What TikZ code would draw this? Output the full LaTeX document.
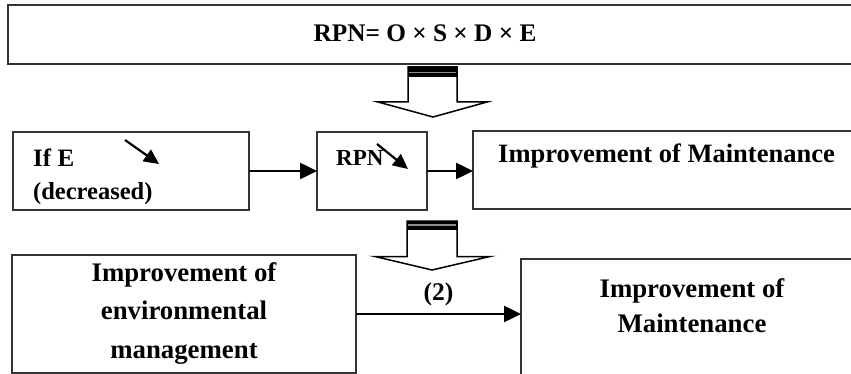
\documentclass[tikz,border=0pt]{standalone}
\usepackage{fontspec}
\setmainfont{Liberation Serif}
\usetikzlibrary{arrows.meta}
\tikzset{
  box/.style={draw=black!80, line width=1.3pt, inner sep=0pt, outer sep=0pt, anchor=north west},
  conn/.style={line width=2.5pt, -{Triangle[length=17pt,width=16pt]}},
  tinyarrow/.style={line width=2.2pt, -{Triangle[length=15pt,width=14pt]}},
  hollow/.style={draw=black, line width=1.5pt, fill=white, line join=miter},
  txt/.style={inner sep=0pt, font=\bfseries},
}
\begin{document}
\begin{tikzpicture}[x=1pt,y=-1pt]
\useasboundingbox (0,0) rectangle (851,374);
% boxes
\node[box, minimum width=850pt, minimum height=59pt] (top) at (8,5) {};
\node[box, minimum width=236pt, minimum height=78pt] (b1) at (13,132) {};
\node[box, minimum width=110pt, minimum height=78pt] (b2) at (317,132) {};
\node[box, minimum width=390pt, minimum height=78pt] (b3) at (473,131) {};
\node[box, minimum width=344pt, minimum height=118pt] (b4) at (12,255) {};
\node[box, minimum width=340pt, minimum height=125pt] (b5) at (521,259) {};
% texts
\node[txt, anchor=base, font=\bfseries\fontsize{25.3}{30}\selectfont] (t0) at (425,42) {RPN= O × S × D × E};
\node[txt, anchor=base west, font=\bfseries\fontsize{25}{30}\selectfont] (t1) at (33,167) {If E};
\node[txt, anchor=base west, font=\bfseries\fontsize{24.5}{30}\selectfont] (t1b) at (33,200) {(decreased)};
\node[txt, anchor=base west, font=\bfseries\fontsize{23}{28}\selectfont] (t2) at (336,166) {RPN};
\node[txt, anchor=base, font=\bfseries\fontsize{26.5}{30}\selectfont] (t3) at (666.5,163) {Improvement of Maintenance};
\node[txt, align=center, font=\bfseries\fontsize{26.8}{38.5}\selectfont] (t4) at (184,313.5) {Improvement of\\environmental\\management};
\node[txt, align=center, font=\bfseries\fontsize{26.8}{35}\selectfont] (t5) at (692,305.5) {Improvement of\\Maintenance};
% small diagonal arrows
\coordinate (s1a) at (125,140);
\coordinate (s1b) at (159,164);
\coordinate (s2a) at (377,144);
\coordinate (s2b) at (408,169);
\draw[tinyarrow] (s1a) -- (s1b);
\draw[tinyarrow] (s2a) -- (s2b);
% connectors
\draw[conn] (b1.east) -- (b2.west);
\draw[conn] (b2.east) -- (b3.west |- b2.east);
\draw[conn] (b4.east) -- node[txt, above=7pt, font=\bfseries\fontsize{25.5}{30}\selectfont] (l2) {(2)} (b5.west |- b4.east);
% hollow block arrows
\draw[hollow] (408,67) -- (408,102) -- (378,102) -- (433,117) -- (487,102) -- (457,102) -- (457,67) -- cycle;
\fill[black] (408,67) rectangle (457,77);
\draw[black!45, line width=1pt] (408.8,72.5) -- (456.2,72.5);
\draw[hollow] (407,221) -- (407,256.5) -- (375,256.5) -- (432,270) -- (490,256.5) -- (457,256.5) -- (457,221) -- cycle;
\fill[black] (407,221) rectangle (457,229.5);
\draw[black!45, line width=1.5pt] (407.8,225.2) -- (456.2,225.2);
\end{tikzpicture}
\end{document}
